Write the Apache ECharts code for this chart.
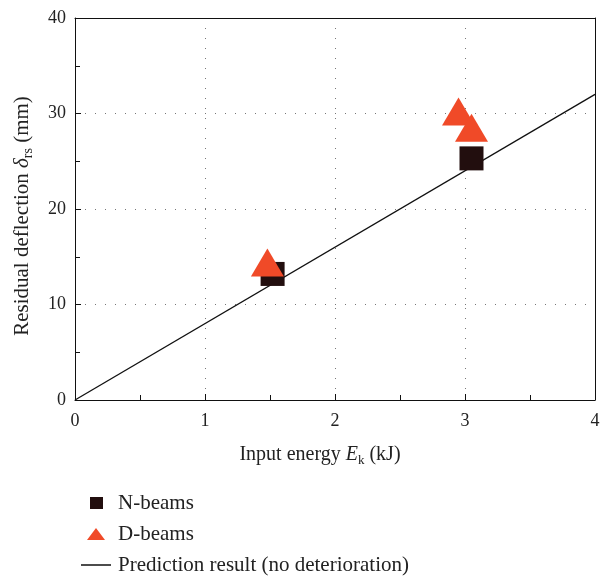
<!DOCTYPE html>
<html>
<head>
<meta charset="utf-8">
<script src="https://cdn.jsdelivr.net/npm/echarts@6/dist/echarts.min.js"></script>
<style>html,body{margin:0;padding:0;background:#fff}#c{width:613px;height:576px}</style>
</head>
<body>
<div id="c"></div>
<script>
const nBeamsX = [1.52, 3.05];
const nBeamsY = [13.2, 25.3];
const dBeamsX = [1.48, 2.95, 3.05];
const dBeamsY = [14.4, 30.2, 28.5];
const predX = [0, 4];
const predY = [0, 32];
const xTicks = [0, 1, 2, 3, 4];
const yTicks = [0, 10, 20, 30, 40];

const FONT = '"Liberation Serif", "DejaVu Serif", serif';
const chart = echarts.init(document.getElementById('c'), null, {renderer: 'canvas'});
const zip = (a, b) => a.map((v, i) => [v, b[i]]);
const gridLine = {show: true, lineStyle: {color: '#777', width: 1, type: [1, 9]}};

chart.setOption({
  backgroundColor: '#fff',
  animation: false,
  grid: {left: 75, right: 18, top: 18, bottom: 176, containLabel: false},
  xAxis: [{
    type: 'value', min: 0, max: 4, interval: 1,
    axisLine: {show: true, onZero: false, lineStyle: {color: '#111', width: 1}},
    axisTick: {show: true, inside: true, length: 6, lineStyle: {color: '#111'}},
    minorTick: {show: true, splitNumber: 2, length: 5, lineStyle: {color: '#111'}},
    splitLine: gridLine,
    axisLabel: {fontFamily: FONT, fontSize: 18, color: '#222', margin: 12,
      formatter: v => xTicks.includes(v) ? String(v) : ''},
    name: '{a|Input energy }{i|E}{s|k}{a| (kJ)}',
    nameLocation: 'middle', nameGap: 43,
    nameTextStyle: {padding: [0, 30, 0, 0], rich: {
      a: {fontFamily: FONT, fontSize: 20, color: '#222'},
      i: {fontFamily: FONT, fontSize: 20, color: '#222', fontStyle: 'italic'},
      s: {fontFamily: FONT, fontSize: 13, color: '#222', padding: [11, 0, 0, 0]}
    }}
  }, {
    type: 'value', min: 0, max: 4, position: 'top',
    axisLine: {show: true, onZero: false, lineStyle: {color: '#111', width: 1}},
    axisTick: {show: false}, axisLabel: {show: false}, splitLine: {show: false}
  }],
  yAxis: [{
    type: 'value', min: 0, max: 40, interval: 10,
    axisLine: {show: true, onZero: false, lineStyle: {color: '#111', width: 1}},
    axisTick: {show: true, inside: true, length: 6, lineStyle: {color: '#111'}},
    minorTick: {show: true, splitNumber: 2, length: 5, lineStyle: {color: '#111'}},
    splitLine: gridLine,
    axisLabel: {fontFamily: FONT, fontSize: 18, color: '#222', margin: 9,
      formatter: v => yTicks.includes(v) ? String(v) : ''},
    name: '{a|Residual deflection }{i|δ}{s|rs}{a| (mm)}',
    nameLocation: 'middle', nameGap: 40, nameRotate: 90,
    nameTextStyle: {padding: [0, 14, 0, 0], rich: {
      a: {fontFamily: FONT, fontSize: 21, color: '#222'},
      i: {fontFamily: FONT, fontSize: 21, color: '#222', fontStyle: 'italic'},
      s: {fontFamily: FONT, fontSize: 14, color: '#222', padding: [12, 0, 0, 0]}
    }}
  }, {
    type: 'value', min: 0, max: 40, position: 'right',
    axisLine: {show: true, onZero: false, lineStyle: {color: '#111', width: 1}},
    axisTick: {show: false}, axisLabel: {show: false}, splitLine: {show: false}
  }],
  legend: [{
    data: ['N-beams'], orient: 'vertical', left: 85, top: 486,
    itemWidth: 13, itemHeight: 12, icon: 'rect',
    textStyle: {fontFamily: FONT, fontSize: 21, color: '#222', lineHeight: 24, padding: [0, 0, 0, 10]}
  }, {
    data: ['D-beams'], orient: 'vertical', left: 82, top: 517,
    itemWidth: 18, itemHeight: 12, icon: 'triangle',
    textStyle: {fontFamily: FONT, fontSize: 21, color: '#222', lineHeight: 24, padding: [0, 0, 0, 8]}
  }, {
    data: ['Prediction result (no deterioration)'], orient: 'vertical', left: 76, top: 548,
    itemWidth: 30, itemHeight: 1.5, icon: 'rect',
    itemStyle: {color: '#111'},
    textStyle: {fontFamily: FONT, fontSize: 21, color: '#222', lineHeight: 24, padding: [0, 0, 0, 2]}
  }],
  series: [{
    name: 'Prediction result (no deterioration)', type: 'line',
    data: zip(predX, predY), symbol: 'none', showSymbol: false,
    lineStyle: {color: '#111', width: 1.3}, itemStyle: {color: '#111'}, z: 2
  }, {
    name: 'N-beams', type: 'scatter', data: zip(nBeamsX, nBeamsY),
    symbol: 'rect', symbolSize: [24, 24],
    itemStyle: {color: '#220e0e', opacity: 1}, z: 3
  }, {
    name: 'D-beams', type: 'scatter', data: zip(dBeamsX, dBeamsY),
    symbol: 'triangle', symbolSize: [33, 28],
    itemStyle: {color: '#f04a28', opacity: 1}, z: 4
  }]
});
</script>
</body>
</html>
